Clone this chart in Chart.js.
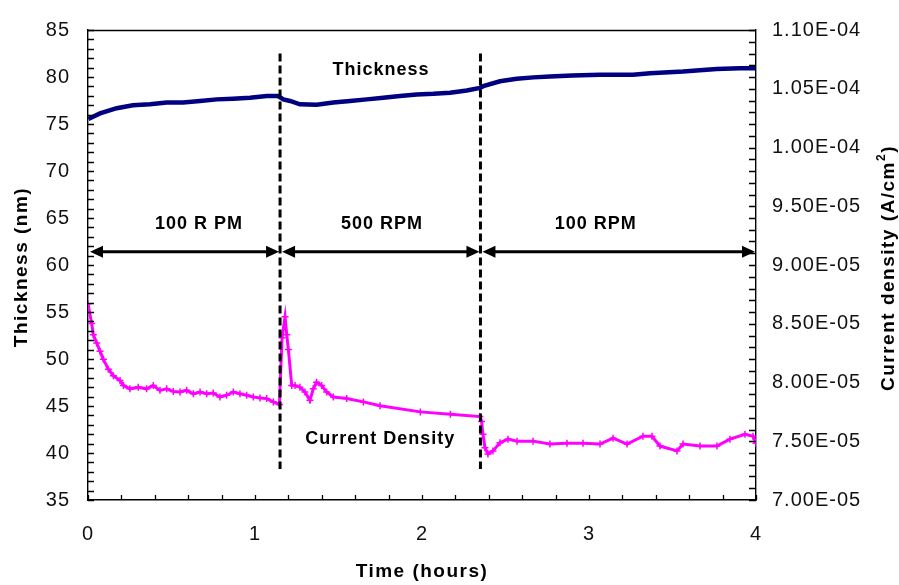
<!DOCTYPE html>
<html>
<head>
<meta charset="utf-8">
<script src="https://cdn.jsdelivr.net/npm/chart.js@4/dist/chart.umd.min.js"></script>
<style>
  html, body { margin: 0; padding: 0; background: #fff; }
  canvas { display: block; }
</style>
</head>
<body>
<canvas id="chart" width="899" height="585"></canvas>
<script>
// Film thickness (nm) against time (hours)
const thkTime = [0.002, 0.072, 0.172, 0.269, 0.371, 0.471, 0.569, 0.671, 0.771, 0.868, 0.970, 1.070, 1.138,
  1.170, 1.210, 1.269, 1.369, 1.469, 1.569, 1.669, 1.768, 1.868, 1.968, 2.068, 2.168, 2.268, 2.347,
  2.367, 2.467, 2.567, 2.667, 2.766, 2.900, 3.066, 3.263, 3.365, 3.563, 3.764, 3.904, 3.994];
const thickness = [75.53, 76.13, 76.68, 77.00, 77.10, 77.28, 77.28, 77.45, 77.62, 77.69, 77.80, 77.97, 77.97,
  77.62, 77.45, 77.10, 77.04, 77.28, 77.45, 77.62, 77.80, 77.97, 78.14, 78.21, 78.32, 78.56, 78.84,
  79.02, 79.54, 79.81, 79.96, 80.06, 80.15, 80.23, 80.23, 80.41, 80.58, 80.86, 80.93, 80.93];

// Current density (A/cm2) against time (hours)
const cdTime = [0.000, 0.022, 0.032, 0.052, 0.072, 0.092, 0.122, 0.152, 0.192, 0.212, 0.251, 0.301,
  0.351, 0.391, 0.431, 0.471, 0.511, 0.551, 0.591, 0.631, 0.671, 0.711, 0.750, 0.790, 0.830, 0.870,
  0.910, 0.950, 0.990, 1.030, 1.070, 1.110, 1.146,
  1.162, 1.180, 1.190, 1.200, 1.220, 1.240, 1.269, 1.299, 1.329, 1.349, 1.369, 1.399, 1.429, 1.469,
  1.549, 1.649, 1.749, 1.990, 2.170, 2.347,
  2.357, 2.365, 2.377, 2.395, 2.425, 2.467, 2.515, 2.569, 2.665, 2.766, 2.868, 2.964, 3.066, 3.144,
  3.228, 3.323, 3.377, 3.425, 3.527, 3.563, 3.665, 3.766, 3.844, 3.934, 3.982, 4.000];
const currentDensity = [8.670e-5, 8.503e-5, 8.406e-5, 8.336e-5, 8.267e-5, 8.197e-5, 8.113e-5, 8.058e-5, 8.016e-5, 7.975e-5, 7.946e-5, 7.960e-5,
  7.946e-5, 7.975e-5, 7.933e-5, 7.946e-5, 7.924e-5, 7.919e-5, 7.933e-5, 7.904e-5, 7.919e-5, 7.904e-5, 7.910e-5, 7.877e-5, 7.891e-5, 7.919e-5,
  7.904e-5, 7.891e-5, 7.877e-5, 7.868e-5, 7.863e-5, 7.835e-5, 7.813e-5,
  8.380e-5, 8.559e-5, 8.406e-5, 8.280e-5, 7.974e-5, 7.974e-5, 7.960e-5, 7.919e-5, 7.849e-5, 7.946e-5, 8.002e-5, 7.974e-5, 7.919e-5, 7.877e-5,
  7.863e-5, 7.835e-5, 7.802e-5, 7.750e-5, 7.730e-5, 7.710e-5,
  7.668e-5, 7.559e-5, 7.445e-5, 7.392e-5, 7.418e-5, 7.487e-5, 7.518e-5, 7.501e-5, 7.501e-5, 7.476e-5, 7.484e-5, 7.484e-5, 7.476e-5, 7.526e-5,
  7.476e-5, 7.543e-5, 7.543e-5, 7.459e-5, 7.418e-5, 7.476e-5, 7.459e-5, 7.459e-5, 7.518e-5, 7.559e-5, 7.543e-5, 7.484e-5];

// Axis ticks
const xTicks = ['0', '1', '2', '3', '4'];
const leftTicks = ['35', '40', '45', '50', '55', '60', '65', '70', '75', '80', '85'];
const rightTicks = ['7.00E-05', '7.50E-05', '8.00E-05', '8.50E-05', '9.00E-05', '9.50E-05',
  '1.00E-04', '1.05E-04', '1.10E-04'];

// Rotation-speed periods: boundaries (hours) and labels
const speedChanges = [1.15, 2.35];
const periods = [
  { from: 0.0, to: 1.15, label: '100 R PM', at: 0.665 },
  { from: 1.15, to: 2.35, label: '500 RPM', at: 1.76 },
  { from: 2.35, to: 4.0, label: '100 RPM', at: 3.04 }
];

const FONT = '"Liberation Sans", Arial, sans-serif';

const thkPoints = thkTime.map((t, i) => ({ x: t, y: thickness[i] }));
const cdPoints = cdTime.map((t, i) => ({ x: t, y: currentDensity[i] }));

function arrowHead(ctx, x, y, dir) {
  ctx.beginPath();
  ctx.moveTo(x, y);
  ctx.lineTo(x - dir * 13, y - 6);
  ctx.lineTo(x - dir * 13, y + 6);
  ctx.closePath();
  ctx.fill();
}

const decor = {
  id: 'decor',
  beforeDraw(chart) {
    chart.ctx.letterSpacing = '1px';
  },
  afterDraw(chart) {
    const ctx = chart.ctx;
    const x = chart.scales.x, y = chart.scales.y, y1 = chart.scales.y1;
    const a = chart.chartArea;
    ctx.save();
    ctx.letterSpacing = '0px';
    ctx.strokeStyle = '#000';
    ctx.lineWidth = 1.4;

    // frame top edge
    ctx.beginPath();
    ctx.moveTo(a.left, a.top + 0.5);
    ctx.lineTo(a.right, a.top + 0.5);
    ctx.stroke();

    // inward tick marks
    ctx.lineWidth = 1.3;
    ctx.beginPath();
    for (let v = 35; v <= 85; v++) {
      const p = Math.round(y.getPixelForValue(v)) + 0.5;
      ctx.moveTo(a.left, p); ctx.lineTo(a.left + 6, p);
    }
    for (let i = 70; i <= 110; i++) {
      const p = Math.round(y1.getPixelForValue(i * 1e-6)) + 0.5;
      ctx.moveTo(a.right, p); ctx.lineTo(a.right - 7, p);
    }
    for (let i = 0; i <= 20; i++) {
      const p = Math.round(x.getPixelForValue(i * 0.2)) + 0.5;
      ctx.moveTo(p, a.bottom); ctx.lineTo(p, a.bottom - 5);
    }
    ctx.stroke();

    // speed-change markers
    ctx.lineWidth = 3;
    ctx.setLineDash([8, 4]);
    ctx.beginPath();
    speedChanges.forEach(t => {
      const px = x.getPixelForValue(t);
      ctx.moveTo(px, y.getPixelForValue(82.5));
      ctx.lineTo(px, y.getPixelForValue(38.3));
    });
    ctx.stroke();
    ctx.setLineDash([]);

    // double-headed period arrows and labels
    const ay = y.getPixelForValue(61.4);
    ctx.fillStyle = '#000';
    ctx.lineWidth = 3;
    periods.forEach(p => {
      const x0 = x.getPixelForValue(p.from) + 2;
      const x1 = x.getPixelForValue(p.to) - 1;
      ctx.beginPath();
      ctx.moveTo(x0 + 8, ay); ctx.lineTo(x1 - 8, ay);
      ctx.stroke();
      arrowHead(ctx, x0, ay, -1);
      arrowHead(ctx, x1, ay, 1);
    });

    ctx.font = 'bold 18px ' + FONT;
    ctx.letterSpacing = '1px';
    ctx.textAlign = 'center';
    ctx.textBaseline = 'middle';
    periods.forEach(p => {
      ctx.fillText(p.label, x.getPixelForValue(p.at), y.getPixelForValue(64.4));
    });
    ctx.fillText('Thickness', x.getPixelForValue(1.755), y.getPixelForValue(80.7));
    ctx.fillText('Current Density', x.getPixelForValue(1.75), y.getPixelForValue(41.5));

    // axis titles
    ctx.font = 'bold 19px ' + FONT;
    ctx.letterSpacing = '1.5px';
    ctx.fillText('Time (hours)', (a.left + a.right) / 2, 572);

    ctx.save();
    ctx.translate(22, (a.top + a.bottom) / 2 + 2);
    ctx.rotate(-Math.PI / 2);
    ctx.fillText('Thickness (nm)', 0, 0);
    ctx.restore();

    ctx.save();
    ctx.translate(889, 268);
    ctx.rotate(-Math.PI / 2);
    const main = 'Current density (A/cm';
    ctx.font = 'bold 19px ' + FONT;
    const wMain = ctx.measureText(main).width;
    ctx.font = 'bold 12px ' + FONT;
    const wSup = ctx.measureText('2').width;
    ctx.font = 'bold 19px ' + FONT;
    const wClose = ctx.measureText(')').width;
    const total = wMain + wSup + wClose;
    let cx = -total / 2;
    ctx.textAlign = 'left';
    ctx.fillText(main, cx, 0);
    cx += wMain;
    ctx.font = 'bold 12px ' + FONT;
    ctx.fillText('2', cx, -7);
    cx += wSup;
    ctx.font = 'bold 19px ' + FONT;
    ctx.fillText(')', cx, 0);
    ctx.restore();

    ctx.restore();
  }
};

new Chart(document.getElementById('chart'), {
  type: 'line',
  data: {
    datasets: [
      {
        label: 'Thickness',
        data: thkPoints,
        xAxisID: 'x',
        yAxisID: 'y',
        borderColor: '#000080',
        backgroundColor: '#000080',
        borderWidth: 4.5,
        pointRadius: 0,
        tension: 0
      },
      {
        label: 'Current Density',
        data: cdPoints,
        xAxisID: 'x',
        yAxisID: 'y1',
        borderColor: '#ff00ff',
        backgroundColor: '#ff00ff',
        borderWidth: 3,
        pointStyle: 'cross',
        pointRadius: 3.5,
        pointBorderWidth: 1.5,
        tension: 0
      }
    ]
  },
  options: {
    responsive: false,
    animation: false,
    events: [],
    layout: { padding: { top: 21, left: 0, right: 0, bottom: 0 } },
    plugins: { legend: { display: false }, tooltip: { enabled: false } },
    scales: {
      x: {
        type: 'linear',
        position: 'bottom',
        min: 0, max: 4,
        grid: { display: false, drawTicks: false },
        border: { display: true, color: '#000', width: 1.4 },
        ticks: {
          stepSize: 1,
          padding: 22,
          color: '#111',
          font: { family: FONT, size: 20 },
          callback: (v) => xTicks[Math.round(v)]
        },
        afterFit: (s) => { s.height = 85; }
      },
      y: {
        type: 'linear',
        position: 'left',
        min: 35, max: 85,
        grid: { display: false, drawTicks: false },
        border: { display: true, color: '#000', width: 1.4 },
        ticks: {
          stepSize: 5,
          padding: 18,
          color: '#111',
          font: { family: FONT, size: 20 },
          callback: (v) => leftTicks[Math.round((v - 35) / 5)]
        },
        afterFit: (s) => { s.width = 88; }
      },
      y1: {
        type: 'linear',
        position: 'right',
        min: 7.0e-5, max: 1.1e-4,
        grid: { display: false, drawTicks: false },
        border: { display: true, color: '#000', width: 1.4 },
        ticks: {
          stepSize: 5e-6,
          padding: 16,
          color: '#111',
          font: { family: FONT, size: 20 },
          callback: (v) => rightTicks[Math.round((v - 7.0e-5) / 5e-6)]
        },
        afterFit: (s) => { s.width = 143; }
      }
    }
  },
  plugins: [decor]
});
</script>
</body>
</html>
